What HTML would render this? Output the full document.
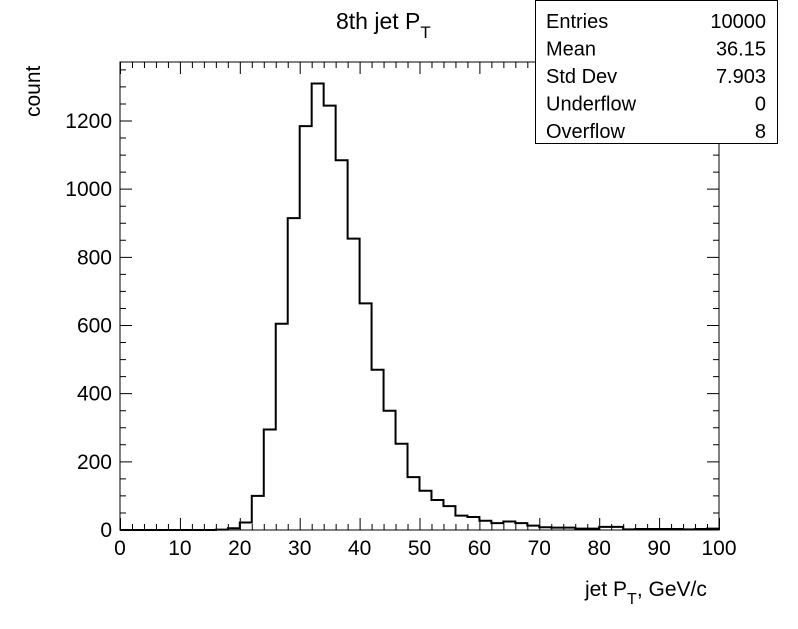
<!DOCTYPE html>
<html><head><meta charset="utf-8"><style>
body{margin:0;background:#fff;}
svg text{font-family:"Liberation Sans",Arial,sans-serif;fill:#000;}
</style></head><body>
<svg id="c" width="798" height="624" xmlns="http://www.w3.org/2000/svg">
<rect width="798" height="624" fill="#fff"/>
</svg>
<script>
const binLow = 0, binWidth = 2;
const counts = [0,0,0,0,0,0,0,0,1,5,22,100,295,605,915,1185,1310,1245,1085,855,665,470,350,253,155,115,88,70,42,38,27,20,25,20,13,8,7,7,4,4,9,9,2,3,3,3,3,2,3,4];
const xTicks = [0,10,20,30,40,50,60,70,80,90,100];
const yTicks = [0,200,400,600,800,1000,1200];
const statsLabels = ["Entries","Mean","Std Dev","Underflow","Overflow"];
const statsValues = ["10000","36.15","7.903","0","8"];

const NS="http://www.w3.org/2000/svg", svg=document.getElementById('c');
const X0=120,X1=719,Y0=530,Y1=62;
const xs=v=>X0+(v-0)/(100-0)*(X1-X0);
const ys=v=>Y0-v*(409/1200);
function mk(t,a,p){const e=document.createElementNS(NS,t);for(const k in a)e.setAttribute(k,a[k]);(p||svg).appendChild(e);return e;}

const frame=mk('rect',{x:X0,y:Y1,width:X1-X0,height:Y0-Y1,fill:'none',stroke:'#000','stroke-width':1});



let tp='';
for(let v=0;v<=100;v+=2){const x=xs(v)+0.5;const L=(v%10===0)?12:6;tp+=`M${x},${Y0}v${-L}M${x},${Y1}v${L}`;}
for(let v=0;v<=1350;v+=50){const y=ys(v);if(y<Y1)break;const L=(v%200===0)?12:6;tp+=`M${X0},${y}h${L}M${X1},${y}h${-L}`;}
const ticks=mk('path',{d:tp,stroke:'#000','stroke-width':1,fill:'none'});



xTicks.forEach(v=>{const t=mk('text',{x:xs(v),y:555,'font-size':21,'text-anchor':'middle'});t.textContent=v;

});
yTicks.forEach(v=>{const t=mk('text',{x:112,y:ys(v)+7,'font-size':21,'text-anchor':'end'});t.textContent=v;

});

let d=`M${xs(binLow)},${ys(counts[0])}`;
counts.forEach((c,i)=>{const a=xs(binLow+i*binWidth),b=xs(binLow+(i+1)*binWidth);d+=`L${a},${ys(c)}L${b},${ys(c)}`;});
const h=mk('path',{d:d,stroke:'#000','stroke-width':2,fill:'none'});



const ti=mk('text',{x:336,y:29,'font-size':23});ti.innerHTML='8th jet P<tspan dy="9" font-size="17">T</tspan>';


const xl=mk('text',{x:585,y:596,'font-size':21});xl.innerHTML='jet P<tspan dy="8" font-size="16">T</tspan><tspan dy="-8">, GeV/c</tspan>';


const yl=mk('text',{x:40,y:117,'font-size':21,transform:'rotate(-90 40 117)'});yl.textContent='count';



const g=mk('g',{});


mk('rect',{x:535.5,y:0.5,width:242,height:143,fill:'#fff',stroke:'#000','stroke-width':1},g);
statsLabels.forEach((s,i)=>{const y=28+i*27.5;
const a=mk('text',{x:546,y:y,'font-size':20},g);a.textContent=s;


const b=mk('text',{x:766,y:y,'font-size':20,'text-anchor':'end'},g);b.textContent=statsValues[i];

});
</script>
</body></html>
